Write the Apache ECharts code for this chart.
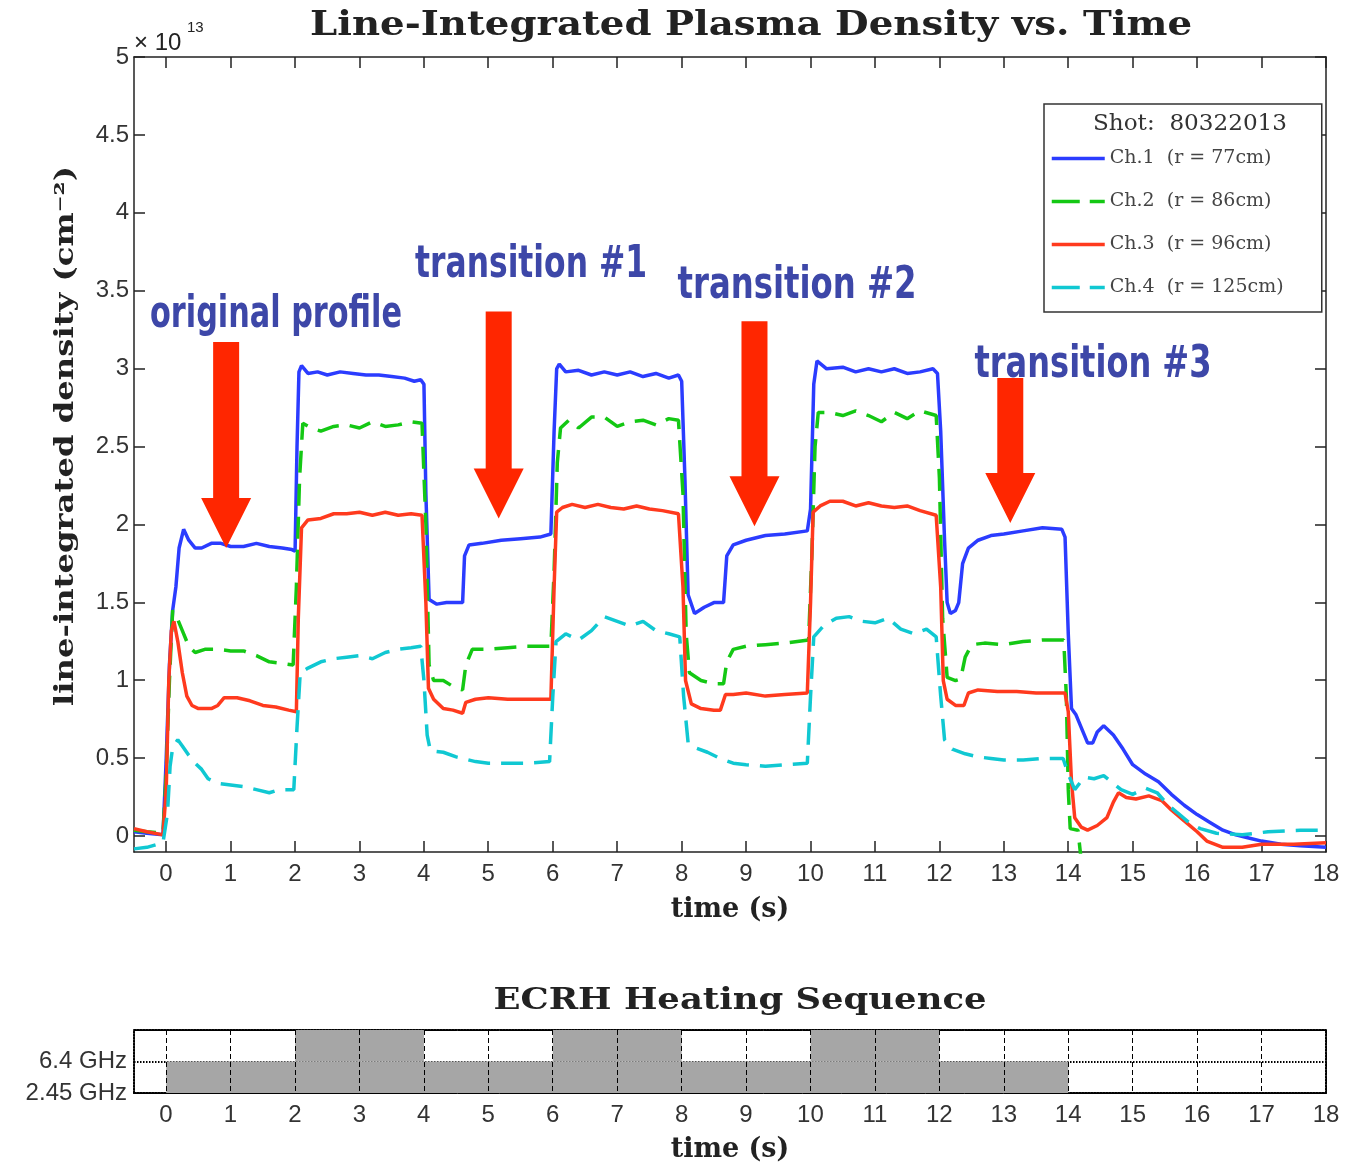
<!DOCTYPE html>
<html>
<head>
<meta charset="utf-8">
<title>Line-Integrated Plasma Density vs. Time</title>
<script src="https://cdn.jsdelivr.net/npm/echarts@6/dist/echarts.min.js"></script>
<style>
  html, body { margin: 0; padding: 0; background: #fff; }
  #chart { width: 1345px; height: 1166px; }
</style>
</head>
<body>
<div id="chart"></div>
<script>
// ── data (values in units of 1e13 cm^-2, time in s) ──
const CH_NAMES = ['Ch.1  (r = 77cm)', 'Ch.2  (r = 86cm)', 'Ch.3  (r = 96cm)', 'Ch.4  (r = 125cm)'];

const CH1 = [[-0.5,0.03],[-0.3,0.02],[-0.05,0.01],[0,0.5],[0.05,1.1],[0.1,1.45],[0.15,1.6],[0.2,1.85],[0.27,1.97],[0.35,1.9],
  [0.45,1.85],[0.55,1.85],[0.7,1.88],[0.85,1.88],[1,1.86],[1.2,1.86],[1.4,1.88],[1.6,1.86],[1.8,1.85],[1.95,1.84],
  [2,1.83],[2.03,2.5],[2.06,2.98],[2.1,3.02],[2.2,2.97],[2.35,2.98],[2.5,2.96],[2.7,2.98],[2.9,2.97],[3.1,2.96],
  [3.3,2.96],[3.5,2.95],[3.7,2.94],[3.85,2.92],[3.95,2.93],[4,2.9],[4.03,2.2],[4.08,1.52],[4.2,1.49],[4.35,1.5],
  [4.6,1.5],[4.63,1.8],[4.7,1.87],[4.9,1.88],[5.2,1.9],[5.5,1.91],[5.8,1.92],[5.97,1.94],[6.02,2.6],[6.06,3.0],
  [6.1,3.03],[6.2,2.98],[6.4,2.99],[6.6,2.96],[6.8,2.98],[7.0,2.96],[7.2,2.98],[7.4,2.95],[7.6,2.97],[7.8,2.94],
  [7.95,2.96],[8,2.92],[8.05,2.3],[8.1,1.55],[8.2,1.43],[8.35,1.47],[8.5,1.5],[8.65,1.5],[8.7,1.8],[8.8,1.87],
  [9,1.9],[9.3,1.93],[9.6,1.94],[9.95,1.96],[10,2.1],[10.05,2.9],[10.1,3.05],[10.25,3.0],[10.5,3.01],[10.7,2.98],
  [10.9,3.0],[11.1,2.98],[11.3,3.0],[11.5,2.97],[11.7,2.98],[11.9,3.0],[11.97,2.97],[12.02,2.6],[12.08,1.9],[12.12,1.5],
  [12.17,1.43],[12.25,1.45],[12.3,1.5],[12.36,1.75],[12.45,1.85],[12.6,1.9],[12.8,1.93],[13,1.94],[13.3,1.96],[13.6,1.98],
  [13.9,1.97],[13.95,1.92],[14,1.3],[14.05,0.82],[14.12,0.78],[14.2,0.7],[14.3,0.6],[14.38,0.6],[14.45,0.67],[14.55,0.71],
  [14.7,0.65],[14.85,0.56],[15,0.46],[15.2,0.4],[15.4,0.35],[15.6,0.27],[15.8,0.2],[16,0.14],[16.2,0.09],[16.4,0.04],
  [16.6,0.01],[16.8,-0.01],[17,-0.03],[17.3,-0.05],[17.6,-0.06],[18,-0.07]];

const CH2 = [[-0.5,0.04],[-0.3,0.03],[-0.05,0.02],[0,0.4],[0.05,1.0],[0.1,1.45],[0.15,1.42],[0.25,1.32],[0.35,1.22],[0.45,1.18],
  [0.6,1.2],[0.8,1.2],[1,1.19],[1.2,1.19],[1.4,1.16],[1.6,1.12],[1.8,1.11],[1.97,1.1],[2.02,1.6],[2.07,2.3],
  [2.12,2.65],[2.25,2.62],[2.4,2.6],[2.6,2.63],[2.8,2.64],[3,2.62],[3.2,2.66],[3.4,2.63],[3.6,2.64],[3.8,2.66],
  [3.97,2.65],[4.03,2.0],[4.08,1.1],[4.15,1.0],[4.3,1.0],[4.5,0.95],[4.6,0.94],[4.65,1.1],[4.75,1.2],[5,1.2],
  [5.3,1.21],[5.6,1.22],[5.97,1.22],[6.02,1.7],[6.07,2.4],[6.12,2.62],[6.25,2.67],[6.4,2.62],[6.6,2.69],[6.8,2.69],
  [7,2.63],[7.2,2.66],[7.4,2.67],[7.6,2.64],[7.8,2.68],[7.95,2.67],[8.02,2.2],[8.07,1.3],[8.12,1.05],[8.3,1.0],
  [8.5,0.98],[8.65,0.98],[8.7,1.12],[8.8,1.2],[9,1.22],[9.3,1.23],[9.6,1.24],[9.97,1.26],[10.02,1.8],[10.07,2.5],
  [10.12,2.72],[10.3,2.72],[10.5,2.7],[10.7,2.73],[10.9,2.7],[11.1,2.66],[11.3,2.72],[11.5,2.68],[11.7,2.73],[11.95,2.7],
  [12,2.3],[12.05,1.4],[12.12,1.02],[12.25,1.0],[12.33,1.01],[12.4,1.15],[12.5,1.23],[12.7,1.24],[13,1.23],[13.3,1.25],
  [13.6,1.26],[13.93,1.26],[13.97,0.9],[14,0.3],[14.03,0.05],[14.15,0.04],[14.2,-0.15],[14.3,-0.4]];

const CH3 = [[-0.5,0.05],[-0.3,0.03],[-0.05,0.01],[0,0.3],[0.04,1.0],[0.08,1.32],[0.12,1.38],[0.18,1.25],[0.25,1.05],[0.32,0.9],
  [0.4,0.84],[0.5,0.82],[0.7,0.82],[0.8,0.84],[0.9,0.89],[1.1,0.89],[1.3,0.87],[1.5,0.84],[1.7,0.83],[1.9,0.81],
  [2.02,0.8],[2.05,1.4],[2.1,1.98],[2.2,2.03],[2.4,2.04],[2.6,2.07],[2.8,2.07],[3,2.08],[3.2,2.06],[3.4,2.08],
  [3.6,2.06],[3.8,2.07],[3.97,2.06],[4.03,1.5],[4.07,0.95],[4.15,0.88],[4.3,0.82],[4.45,0.81],[4.6,0.79],[4.65,0.86],
  [4.8,0.88],[5,0.89],[5.3,0.88],[5.6,0.88],[5.97,0.88],[6.02,1.6],[6.06,2.08],[6.15,2.11],[6.3,2.13],[6.5,2.11],
  [6.7,2.13],[6.9,2.11],[7.1,2.1],[7.3,2.12],[7.5,2.1],[7.7,2.09],[7.95,2.07],[8.02,1.6],[8.06,1.0],[8.15,0.85],
  [8.3,0.82],[8.5,0.81],[8.6,0.81],[8.68,0.91],[8.8,0.91],[9,0.92],[9.3,0.9],[9.6,0.91],[9.95,0.92],[10,1.5],
  [10.04,2.08],[10.15,2.12],[10.3,2.15],[10.5,2.15],[10.7,2.12],[10.9,2.14],[11.1,2.12],[11.3,2.11],[11.5,2.12],[11.7,2.09],
  [11.95,2.06],[12.02,1.6],[12.06,1.0],[12.12,0.88],[12.25,0.84],[12.38,0.84],[12.45,0.92],[12.6,0.94],[12.9,0.93],[13.2,0.93],
  [13.5,0.92],[13.95,0.92],[14,0.8],[14.05,0.35],[14.1,0.12],[14.2,0.06],[14.3,0.04],[14.45,0.07],[14.6,0.12],[14.7,0.22],
  [14.78,0.28],[14.9,0.25],[15.05,0.24],[15.25,0.26],[15.45,0.23],[15.6,0.17],[15.8,0.1],[16,0.03],[16.15,-0.03],[16.4,-0.07],
  [16.7,-0.07],[17,-0.05],[17.5,-0.05],[18,-0.04]];

const CH4 = [[-0.5,-0.08],[-0.3,-0.07],[-0.05,-0.04],[0.02,0.15],[0.06,0.45],[0.1,0.57],[0.18,0.62],[0.25,0.58],[0.35,0.52],[0.45,0.47],
  [0.55,0.43],[0.65,0.37],[0.8,0.34],[1,0.33],[1.2,0.32],[1.4,0.3],[1.6,0.28],[1.75,0.3],[1.9,0.3],[1.98,0.3],
  [2.03,0.7],[2.08,1.05],[2.2,1.08],[2.4,1.12],[2.6,1.14],[2.8,1.15],[3,1.16],[3.2,1.14],[3.4,1.18],[3.6,1.2],
  [3.8,1.21],[3.95,1.22],[4,1.0],[4.05,0.65],[4.1,0.55],[4.3,0.54],[4.5,0.51],[4.8,0.48],[5,0.47],[5.3,0.47],
  [5.6,0.47],[5.95,0.48],[6,0.9],[6.05,1.25],[6.2,1.3],[6.4,1.26],[6.6,1.32],[6.8,1.41],[7,1.38],[7.2,1.35],
  [7.4,1.38],[7.6,1.32],[7.8,1.3],[7.97,1.28],[8.03,0.9],[8.1,0.6],[8.2,0.57],[8.4,0.54],[8.6,0.5],[8.8,0.47],
  [9,0.46],[9.3,0.45],[9.6,0.46],[9.95,0.47],[10,0.9],[10.05,1.28],[10.2,1.35],[10.4,1.4],[10.6,1.41],[10.8,1.38],
  [11,1.37],[11.2,1.4],[11.4,1.33],[11.6,1.3],[11.8,1.33],[11.95,1.28],[12.02,0.9],[12.08,0.62],[12.2,0.56],[12.4,0.53],
  [12.6,0.51],[12.8,0.5],[13,0.49],[13.3,0.49],[13.6,0.5],[13.92,0.5],[14,0.4],[14.1,0.3],[14.25,0.38],[14.4,0.37],
  [14.55,0.39],[14.67,0.35],[14.82,0.3],[15,0.27],[15.2,0.31],[15.38,0.28],[15.55,0.2],[15.7,0.15],[15.9,0.08],[16.05,0.05],
  [16.3,0.02],[16.7,0.01],[17.1,0.03],[17.6,0.04],[18,0.04]];

// ECRH heating windows [start, end] in s
const HEAT_ROWS = ['2.45 GHz', '6.4 GHz'];
const HEAT_64 = [[2, 4], [6, 8], [10, 12]];
const HEAT_245 = [[0, 14]];

// annotation arrows: tip in data coords
const ARROW_TIPS = [[0.93, 1.85], [5.16, 2.04], [9.13, 1.99], [13.1, 2.01]];
const ARROW_TEXT = ['original profile', 'transition #1', 'transition #2', 'transition #3'];

// ── styles / layout ──
const COLORS = ['#2b3cff', '#14c814', '#ff3a1e', '#10c8d2'];
const DASH = [22, 11];
const AXIS = '#222';
const SANS = '"Liberation Sans", Arial, sans-serif';
const SERIF = '"DejaVu Serif", serif';
const HAND_FONT = 'bold 44px "DejaVu Sans Condensed", "DejaVu Sans", sans-serif';

const ctx = document.createElement('canvas').getContext('2d');
function textW(text, font) { ctx.font = font; return ctx.measureText(text).width; }

const LEG_FONT = '19px "DejaVu Serif"';
const legTextW = Math.max(...CH_NAMES.map(n => textW(n, LEG_FONT)));
const legRightPad = Math.max(4, 276 - 6 - 53 - 5 - legTextW);

const line = (name, data, color, dashed) => ({
  name, type: 'line', data, xAxisIndex: 0, yAxisIndex: 0,
  showSymbol: false, symbol: 'none', clip: true, animation: false,
  lineStyle: { color, width: 3.5, type: dashed ? DASH : 'solid' },
  itemStyle: { color },
});

const heatRect = (row) => (params, api) => {
  const p0 = api.coord([api.value(0), row + 1]);
  const p1 = api.coord([api.value(1), row]);
  return { type: 'rect', shape: { x: p0[0], y: p0[1], width: p1[0] - p0[0], height: p1[1] - p0[1] },
           style: { fill: '#a6a6a6' } };
};

const dotted = { color: '#000', width: 2, type: [1.5, 1.5] };
const hidden = { show: false };
const solidLine = { show: true, onZero: false, lineStyle: { color: AXIS, width: 1.5 } };
const dottedLine = { show: true, onZero: false, lineStyle: dotted };
const noLine = { show: false, onZero: false };

const option = {
  animation: false,
  backgroundColor: '#fff',
  grid: [
    { left: 134, top: 57, width: 1192, height: 795 },   // 0 data
    { left: 134, top: 57, width: 1192, height: 779 },   // 1 y ticks (0..5)
    { left: 166, top: 57, width: 1160, height: 795 },   // 2 x ticks (0..18)
    { left: 134, top: 1030, width: 1192, height: 63 },  // 3 heating data
    { left: 166, top: 1030, width: 1160, height: 63 },  // 4 heating ticks
  ],
  legend: {
    orient: 'vertical', left: 1044, top: 104,
    padding: [45, legRightPad, 15, 6],
    itemWidth: 53, itemHeight: 14, itemGap: 24,
    backgroundColor: '#fff', borderColor: '#333', borderWidth: 1.5,
    textStyle: { fontFamily: 'DejaVu Serif', fontSize: 19, color: '#444' },
    itemStyle: { opacity: 0 },
    selectedMode: false,
    data: CH_NAMES.map((name, i) => ({
      name,
      lineStyle: { color: COLORS[i], width: 3.5, type: i % 2 ? [28, 10] : 'solid' },
    })),
  },
  xAxis: [
    { gridIndex: 0, type: 'value', min: -0.5, max: 18, position: 'bottom',
      axisLine: solidLine, axisTick: hidden, axisLabel: hidden, splitLine: hidden,
      name: 'time (s)', nameLocation: 'middle', nameGap: 44,
      nameTextStyle: { fontFamily: SERIF, fontWeight: 'bold', fontSize: 27, color: '#222' } },
    { gridIndex: 0, type: 'value', min: -0.5, max: 18, position: 'top',
      axisLine: solidLine, axisTick: hidden, axisLabel: hidden, splitLine: hidden },
    { gridIndex: 2, type: 'value', min: 0, max: 18, interval: 1, position: 'bottom',
      axisLine: noLine, splitLine: hidden,
      axisTick: { inside: true, length: 11, lineStyle: { color: AXIS, width: 1.5 } },
      axisLabel: { margin: 10, fontFamily: SANS, fontSize: 24, color: '#333' } },
    { gridIndex: 2, type: 'value', min: 0, max: 18, interval: 1, position: 'top',
      axisLine: noLine, splitLine: hidden, axisLabel: hidden,
      axisTick: { inside: true, length: 11, lineStyle: { color: AXIS, width: 1.5 } } },
    { gridIndex: 3, type: 'value', min: -0.5, max: 18, position: 'bottom',
      axisLine: dottedLine, axisTick: hidden, axisLabel: hidden, splitLine: hidden,
      name: 'time (s)', nameLocation: 'middle', nameGap: 43,
      nameTextStyle: { fontFamily: SERIF, fontWeight: 'bold', fontSize: 27, color: '#222' } },
    { gridIndex: 3, type: 'value', min: -0.5, max: 18, position: 'top',
      axisLine: dottedLine, axisTick: hidden, axisLabel: hidden, splitLine: hidden },
    { gridIndex: 4, type: 'value', min: 0, max: 18, interval: 1, position: 'bottom', z: 5,
      axisLine: noLine, axisTick: hidden,
      axisLabel: { margin: 10, fontFamily: SANS, fontSize: 24, color: '#333' },
      splitLine: { show: true, lineStyle: { color: '#000', width: 1, type: [5, 3] } } },
    { gridIndex: 1, type: 'value', min: -0.5, max: 18, show: false },
  ],
  yAxis: [
    { gridIndex: 0, type: 'value', min: -0.1, max: 5, position: 'left',
      axisLine: solidLine, axisTick: hidden, axisLabel: hidden, splitLine: hidden },
    { gridIndex: 0, type: 'value', min: -0.1, max: 5, position: 'right',
      axisLine: solidLine, axisTick: hidden, axisLabel: hidden, splitLine: hidden },
    { gridIndex: 1, type: 'value', min: 0, max: 5, interval: 0.5, position: 'left',
      axisLine: noLine, splitLine: hidden,
      axisTick: { show: true, inside: true, length: 11, lineStyle: { color: AXIS, width: 1.5 } },
      axisLabel: { margin: 5, fontFamily: SANS, fontSize: 24, color: '#333' } },
    { gridIndex: 1, type: 'value', min: 0, max: 5, interval: 0.5, position: 'right',
      axisLine: noLine, splitLine: hidden, axisLabel: hidden,
      axisTick: { show: true, inside: true, length: 11, lineStyle: { color: AXIS, width: 1.5 } } },
    { gridIndex: 3, type: 'value', min: 0, max: 2, interval: 1, position: 'left',
      axisLine: dottedLine, axisTick: hidden,
      axisLabel: { margin: 7, fontFamily: SANS, fontSize: 24, color: '#333',
                   formatter: v => HEAT_ROWS[v] ?? '' },
      splitLine: { show: true, lineStyle: dotted } },
    { gridIndex: 3, type: 'value', min: 0, max: 2, position: 'right',
      axisLine: dottedLine, axisTick: hidden, axisLabel: hidden, splitLine: hidden },
    { gridIndex: 4, type: 'value', min: 0, max: 2, show: false },
    { gridIndex: 2, type: 'value', min: 0, max: 5, show: false },
  ],
  series: [
    line(CH_NAMES[0], CH1, COLORS[0], false),
    line(CH_NAMES[1], CH2, COLORS[1], true),
    line(CH_NAMES[2], CH3, COLORS[2], false),
    line(CH_NAMES[3], CH4, COLORS[3], true),
    { type: 'custom', xAxisIndex: 4, yAxisIndex: 4, data: HEAT_245, renderItem: heatRect(0), z: 1, silent: true },
    { type: 'custom', xAxisIndex: 4, yAxisIndex: 4, data: HEAT_64, renderItem: heatRect(1), z: 1, silent: true },
  ],
};

const chart = echarts.init(document.getElementById('chart'));
chart.setOption(option);

// ── annotations / titles ──
function fitText(text, font, x, y, target, extra) {
  const s = target / textW(text, font);
  return Object.assign({
    type: 'text', x, y, scaleX: s, z: 100,
    style: { text, font, fill: '#222', align: 'center', verticalAlign: 'middle',
             textAlign: 'center', textVerticalAlign: 'middle' },
  }, extra || {});
}

function plainText(text, font, x, y, align, fill) {
  return { type: 'text', x, y, z: 100,
    style: { text, font, fill: fill || '#222', align, verticalAlign: 'middle',
             textAlign: align, textVerticalAlign: 'middle' } };
}

const TITLE_FONT = 'bold 34px "DejaVu Serif"';
const SUB_FONT = 'bold 30px "DejaVu Serif"';
const YNAME_FONT = 'bold 26px "DejaVu Serif"';
const ANN_POS = [[276, 316, 252], [531, 266, 232], [797, 287, 239], [1093, 366, 237]];

const graphics = [
  fitText('Line-Integrated Plasma Density vs. Time', TITLE_FONT, 751, 26, 882),
  fitText('ECRH Heating Sequence', SUB_FONT, 740, 1001, 493),
  fitText('line-integrated density (cm\u207B\u00B2)', YNAME_FONT, 66, 436, 540, { rotation: Math.PI / 2 }),
  plainText('\u00D7 10', '24px "Liberation Sans"', 134, 43, 'left'),
  plainText('13', '15px "Liberation Sans"', 187, 28, 'left'),
  fitText('Shot:  80322013', '22px "DejaVu Serif"', 1190, 124, 194),
];
graphics[graphics.length - 1].style.fill = '#333';

const SHAFT = [156, 157, 155, 95];
ARROW_TIPS.forEach((tip, i) => {
  const [px, py] = chart.convertToPixel({ xAxisIndex: 0, yAxisIndex: 0 }, tip);
  const top = py - 50 - SHAFT[i];
  graphics.push({
    type: 'polygon', z: 90,
    shape: { points: [[px, py], [px - 25, py - 50], [px - 13, py - 50], [px - 13, top],
                      [px + 13, top], [px + 13, py - 50], [px + 25, py - 50]] },
    style: { fill: '#ff2600' },
  });
  const [ax, ay, aw] = ANN_POS[i];
  const t = fitText(ARROW_TEXT[i], HAND_FONT, ax, ay, aw);
  t.style.fill = '#3d47a8';
  graphics.push(t);
});

chart.setOption({ graphic: graphics });
</script>
</body>
</html>
